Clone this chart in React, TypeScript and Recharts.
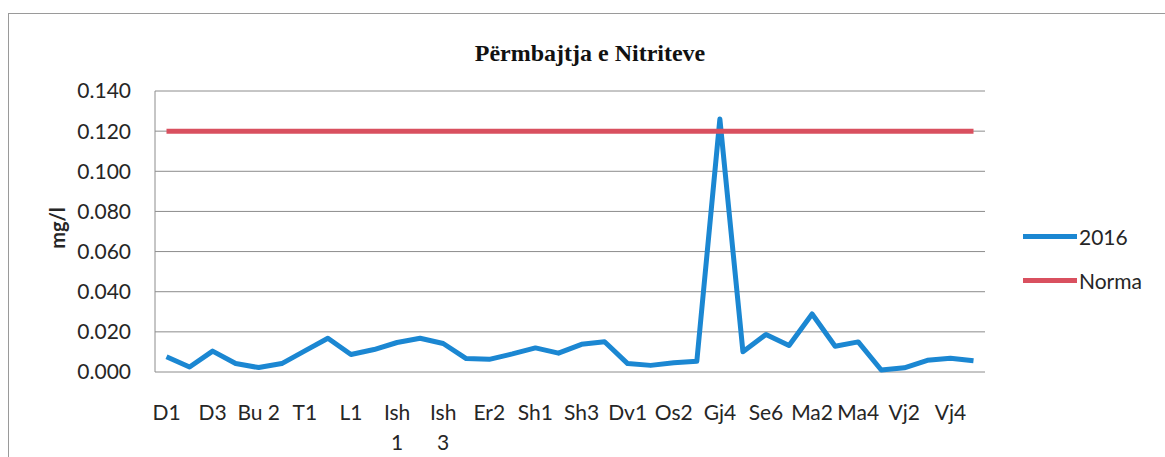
import React from "react";
import { CartesianGrid, Label, Legend, Line, LineChart, XAxis, YAxis } from "recharts";

const categories = [
  "D1", "D2", "D3", "Bu 1", "Bu\u00a02", "Bu 3", "T1", "T2", "L1", "L2",
  "Ish 1", "Ish 2", "Ish 3", "Er1", "Er2", "Er3", "Sh1", "Sh2", "Sh3", "Sh4",
  "Dv1", "Os1", "Os2", "Gj3", "Gj4", "Se5", "Se6", "Ma1", "Ma2", "Ma3",
  "Ma4", "Vj1", "Vj2", "Vj3", "Vj4", "Vj5",
];

const values2016 = [
  0.0076, 0.0025, 0.0104, 0.0042, 0.0022, 0.0042, 0.0105, 0.0168, 0.0087, 0.0112,
  0.0147, 0.0168, 0.0142, 0.0067, 0.0063, 0.009, 0.012, 0.0094, 0.0138, 0.0151,
  0.0042, 0.0033, 0.0046, 0.0053, 0.126, 0.0101, 0.0187, 0.0132, 0.0289, 0.0128,
  0.015, 0.001, 0.0021, 0.0058, 0.0069, 0.0056,
];

const norma = [
  0.12, 0.12, 0.12, 0.12, 0.12, 0.12, 0.12, 0.12, 0.12, 0.12,
  0.12, 0.12, 0.12, 0.12, 0.12, 0.12, 0.12, 0.12, 0.12, 0.12,
  0.12, 0.12, 0.12, 0.12, 0.12, 0.12, 0.12, 0.12, 0.12, 0.12,
  0.12, 0.12, 0.12, 0.12, 0.12, 0.12,
];

const yTicks = [0, 0.02, 0.04, 0.06, 0.08, 0.1, 0.12, 0.14];

const data = categories.map((name, i) => ({ name, v2016: values2016[i], norma: norma[i] }));

const FONT = "Lato, 'Open Sans', sans-serif";
const TEXT = "#262626";
const BLUE = "#1b87d2";
const RED = "#d9505f";

function XTick(props: any) {
  const { x, y, payload } = props;
  const lines = String(payload.value).split(" ");
  return (
    <text x={x} y={y + 40} textAnchor="middle" fill={TEXT} fontSize={21} fontFamily={FONT}>
      {lines.map((l: string, i: number) => (
        <tspan key={i} x={x} dy={i === 0 ? 0 : 30}>
          {l}
        </tspan>
      ))}
    </text>
  );
}

function LegendBox() {
  const items = [
    { label: "2016", color: BLUE },
    { label: "Norma", color: RED },
  ];
  return (
    <div>
      {items.map((it) => (
        <div key={it.label} style={{ display: "flex", alignItems: "center", height: 44 }}>
          <div style={{ width: 54, height: 5, background: it.color }} />
          <span style={{ fontFamily: FONT, fontSize: 21, color: TEXT, marginLeft: 2 }}>{it.label}</span>
        </div>
      ))}
    </div>
  );
}

export default function App() {
  return (
    <div style={{ position: "absolute", left: 0, top: 0, width: 1165, height: 457, background: "#fff", overflow: "hidden" }}>
      <div
        style={{ position: "absolute", left: 8, top: 13, width: 1200, height: 500, border: "1.5px solid #9a9a9a" }}
      />
      <div
        style={{
          position: "absolute",
          left: 0,
          width: 1180,
          top: 39,
          textAlign: "center",
          fontFamily: "'Liberation Serif', 'Times New Roman', serif",
          fontWeight: "bold",
          fontSize: 24,
          color: "#111",
          lineHeight: "28px",
        }}
      >
        Përmbajtja e Nitriteve
      </div>
      <LineChart
        width={1165}
        height={457}
        data={data}
        margin={{ top: 91, right: 180, bottom: 0, left: 0 }}
        style={{ position: "absolute", left: 0, top: 0 }}
      >
        <CartesianGrid vertical={false} stroke="#8c8c8c" strokeWidth={1} />
        <XAxis
          dataKey="name"
          interval={1}
          height={85}
          padding={{ left: 11.5, right: 11.5 }}
          tickLine={false}
          axisLine={false}
          tick={<XTick />}
        />
        <YAxis
          width={155}
          domain={[0, 0.14]}
          ticks={yTicks}
          tickFormatter={(v: number) => v.toFixed(3)}
          tickLine={false}
          tickSize={0}
          tickMargin={24}
          axisLine={{ stroke: "#8c8c8c" }}
          tick={{ fill: TEXT, fontSize: 21, fontFamily: FONT }}
        >
          <Label
            content={() => (
              <text
                x={57}
                y={228}
                transform="rotate(-90, 57, 228)"
                textAnchor="middle"
                dominantBaseline="central"
                fill={TEXT}
                fontSize={20}
                fontWeight="bold"
                fontFamily={FONT}
              >
                mg/l
              </text>
            )}
          />
        </YAxis>
        <Legend
          layout="vertical"
          align="center"
          verticalAlign="middle"
          content={<LegendBox />}
          wrapperStyle={{ left: 1023, top: 214, width: 140 }}
        />
        <Line
          dataKey="v2016"
          name="2016"
          stroke={BLUE}
          strokeWidth={5}
          strokeLinejoin="round"
          dot={false}
          activeDot={false}
          isAnimationActive={false}
        />
        <Line
          dataKey="norma"
          name="Norma"
          stroke={RED}
          strokeWidth={5}
          dot={false}
          activeDot={false}
          isAnimationActive={false}
        />
      </LineChart>
    </div>
  );
}
